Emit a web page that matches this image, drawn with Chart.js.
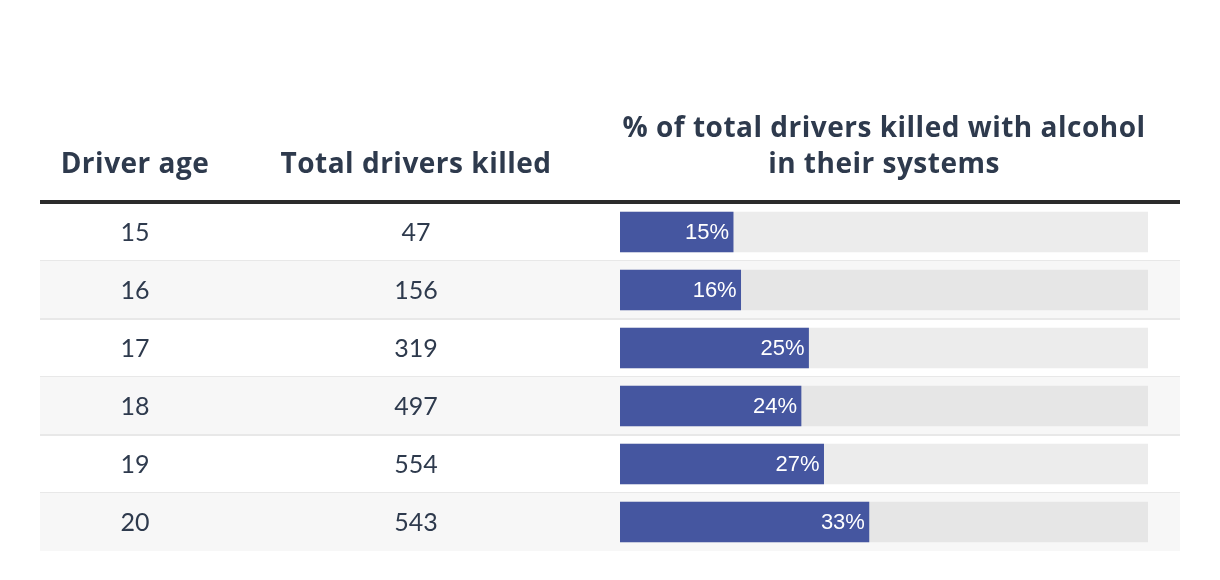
<!DOCTYPE html>
<html>
<head>
<meta charset="utf-8">
<script src="https://cdn.jsdelivr.net/npm/chart.js@4.4.0/dist/chart.umd.min.js"></script>
<style>
  html, body { margin: 0; padding: 0; background: #fff; }
  #wrap { position: absolute; left: 0; top: 0; width: 1220px; height: 580px; }
</style>
</head>
<body>
<div id="wrap"><canvas id="tbl" width="1220" height="580"></canvas></div>
<script>
// data
const ages = ["15", "16", "17", "18", "19", "20"];
const totalKilled = [47, 156, 319, 497, 554, 543];
const pctAlcohol = [15, 16, 25, 24, 27, 33];
const pctMax = 70;

const headers = ["Driver age", "Total drivers killed", ["% of total drivers killed with alcohol", "in their systems"]];

const textColor = "#2e3a4d";
const barColor = "#4556a0";

// row backgrounds, header and the two text columns
const tablePlugin = {
    id: "tableText",
    beforeDatasetsDraw(chart) {
        const ctx = chart.ctx;
        const y = chart.scales.y;
        const half = (y.getPixelForValue(1) - y.getPixelForValue(0)) / 2;
        ctx.save();

        ages.forEach((age, i) => {
            const cy = y.getPixelForValue(i);
            if (i % 2 === 1) {
                ctx.fillStyle = "#f7f7f7";
                ctx.fillRect(40, cy - half, 1140, half * 2);
            }
            if (i < ages.length - 1) {
                ctx.fillStyle = "#e8e8e8";
                ctx.fillRect(40, cy + half - 1, 1140, 2);
            }
        });

        // thick header rule
        ctx.fillStyle = "#2b2b2b";
        ctx.fillRect(40, 200, 1140, 4);

        // headers
        ctx.fillStyle = textColor;
        ctx.font = "bold 28px 'Open Sans'";
        ctx.letterSpacing = "0.5px";
        ctx.textAlign = "center";
        ctx.textBaseline = "alphabetic";
        ctx.fillText(headers[0], 135, 173);
        ctx.fillText(headers[1], 416, 173);
        ctx.fillText(headers[2][0], 884, 137);
        ctx.fillText(headers[2][1], 884, 173);
        ctx.letterSpacing = "0px";

        // body columns
        ctx.font = "25px Lato";
        ctx.textBaseline = "middle";
        ages.forEach((age, i) => {
            const cy = y.getPixelForValue(i) + 1;
            ctx.fillText(age, 135, cy);
            ctx.fillText(String(totalKilled[i]), 416, cy);
        });
        ctx.restore();
    },
    afterDatasetsDraw(chart) {
        const ctx = chart.ctx;
        const meta = chart.getDatasetMeta(0);
        ctx.save();
        ctx.fillStyle = "#ffffff";
        ctx.font = "22px 'Liberation Sans'";
        ctx.textAlign = "right";
        ctx.textBaseline = "middle";
        meta.data.forEach((bar, i) => {
            ctx.fillText(pctAlcohol[i] + "%", bar.x - 4, bar.y + 1);
        });
        ctx.restore();
    }
};

new Chart(document.getElementById("tbl").getContext("2d"), {
    type: "bar",
    data: {
        labels: ages,
        datasets: [{
            label: "% with alcohol",
            data: pctAlcohol,
            backgroundColor: barColor,
            barThickness: 40
        }, {
            label: "track",
            data: ages.map(() => pctMax),
            backgroundColor: ages.map((a, i) => i % 2 === 1 ? "#e6e6e6" : "#ececec"),
            barThickness: 40
        }]
    },
    options: {
        indexAxis: "y",
        responsive: false,
        devicePixelRatio: 1,
        animation: false,
        layout: { padding: { left: 620, right: 72, top: 203, bottom: 29 } },
        scales: {
            x: { display: false, min: 0, max: pctMax },
            y: { display: false, grid: { display: false } }
        },
        datasets: { bar: { grouped: false } },
        plugins: {
            legend: { display: false },
            tooltip: { enabled: false }
        }
    },
    plugins: [tablePlugin]
});
</script>
</body>
</html>
